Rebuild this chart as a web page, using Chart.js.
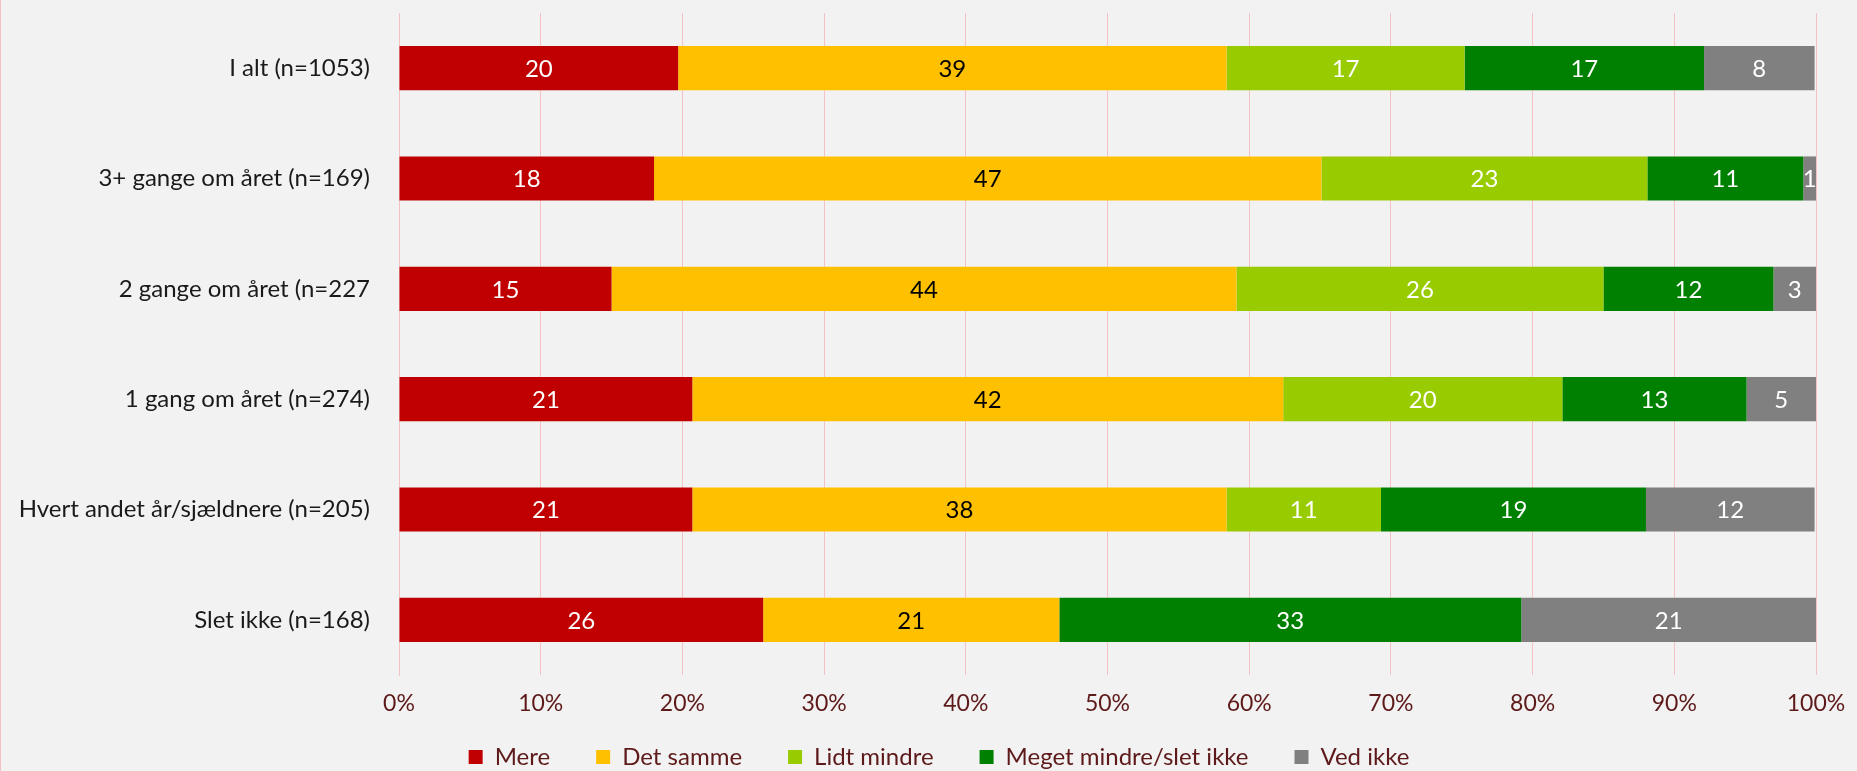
<!DOCTYPE html>
<html>
<head>
<meta charset="utf-8">
<script src="https://cdn.jsdelivr.net/npm/chart.js@4.4.1/dist/chart.umd.min.js"></script>
<style>
  html, body { margin: 0; padding: 0; background: #F2F2F2; }
  canvas { display: block; }
</style>
</head>
<body>
<canvas id="myChart" width="1857" height="771"></canvas>
<script>
// categories (rows, top to bottom)
const categories = [
  "I alt (n=1053)",
  "3+ gange om året (n=169)",
  "2 gange om året (n=227",
  "1 gang om året (n=274)",
  "Hvert andet år/sjældnere (n=205)",
  "Slet ikke (n=168)"
];

// shares in percent
const mere = [19.7, 18.0, 15.0, 20.7, 20.7, 25.7];
const detSamme = [38.7, 47.1, 44.1, 41.7, 37.7, 20.9];
const lidtMindre = [16.8, 23.0, 25.9, 19.7, 10.9, 0];
const megetMindre = [16.9, 11.0, 12.0, 13.0, 18.7, 32.6];
const vedIkke = [7.8, 0.9, 3.0, 4.9, 11.9, 20.8];

const seriesNames = ["Mere", "Det samme", "Lidt mindre", "Meget mindre/slet ikke", "Ved ikke"];
const xTicks = [0, 10, 20, 30, 40, 50, 60, 70, 80, 90, 100];

const colors = ["#C00000", "#FFC000", "#99CC00", "#008000", "#808080"];
const labelColors = ["#FFFFFF", "#000000", "#FFFFFF", "#FFFFFF", "#FFFFFF"];
const fontFamily = "Lato, 'DejaVu Sans', sans-serif";
const tickColor = "#5E1A1A";

const bgPlugin = {
  id: "bg",
  beforeDraw(chart) {
    const ctx = chart.ctx;
    ctx.save();
    ctx.fillStyle = "#F2F2F2";
    ctx.fillRect(0, 0, chart.width, chart.height);
    ctx.fillStyle = "#F4C2C2";
    ctx.fillRect(0, 0, 1, chart.height);
    ctx.restore();
  },
  afterLayout(chart) {
    // legend row sits a bit right of centre and low in the original
    chart.legend.left += 31;
    chart.legend.right += 31;
    chart.legend.top = 699;
  }
};

const valueLabels = {
  id: "valueLabels",
  afterDatasetsDraw(chart) {
    const ctx = chart.ctx;
    ctx.save();
    ctx.font = "24px " + fontFamily;
    ctx.textAlign = "center";
    ctx.textBaseline = "middle";
    chart.data.datasets.forEach((ds, i) => {
      const meta = chart.getDatasetMeta(i);
      meta.data.forEach((bar, j) => {
        const v = ds.data[j];
        if (!v || v < 0.5) return;
        ctx.fillStyle = labelColors[i];
        ctx.fillText(Math.round(v), (bar.x + bar.base) / 2, bar.y + 1);
      });
    });
    ctx.restore();
  }
};

const allValues = [mere, detSamme, lidtMindre, megetMindre, vedIkke];

new Chart(document.getElementById("myChart").getContext("2d"), {
  type: "bar",
  data: {
    labels: categories,
    datasets: seriesNames.map((name, i) => ({
      label: name,
      data: allValues[i],
      backgroundColor: colors[i],
      borderWidth: 0,
      barPercentage: 0.4,
      categoryPercentage: 1.0
    }))
  },
  options: {
    indexAxis: "y",
    responsive: false,
    animation: false,
    devicePixelRatio: 1,
    layout: { padding: { top: 13, right: 41, bottom: -7, left: 0 } },
    scales: {
      x: {
        stacked: true,
        min: 0,
        max: 100,
        afterBuildTicks(scale) {
          scale.ticks = xTicks.map(v => ({ value: v }));
        },
        afterFit(scale) {
          scale.height = 44;
          scale.paddingLeft = 0;
          scale.paddingRight = 0;
        },
        ticks: {
          callback: v => v + "%",
          color: tickColor,
          font: { family: fontFamily, size: 23 },
          padding: 15,
          maxRotation: 0
        },
        grid: { color: "#F4C2C2", drawTicks: false, lineWidth: 1 },
        border: { display: false }
      },
      y: {
        stacked: true,
        afterFit(scale) {
          scale.width = 399;
          scale.paddingTop = 0;
          scale.paddingBottom = 0;
        },
        ticks: {
          color: "#1A1A1A",
          font: { family: fontFamily, size: 24 },
          padding: 21
        },
        grid: { display: false },
        border: { display: true, color: "#F4C2C2" }
      }
    },
    plugins: {
      legend: {
        position: "bottom",
        maxHeight: 59,
        labels: {
          boxWidth: 14,
          boxHeight: 14,
          padding: 46,
          color: tickColor,
          font: { family: fontFamily, size: 24 }
        }
      },
      tooltip: { enabled: false }
    }
  },
  plugins: [bgPlugin, valueLabels]
});
</script>
</body>
</html>
